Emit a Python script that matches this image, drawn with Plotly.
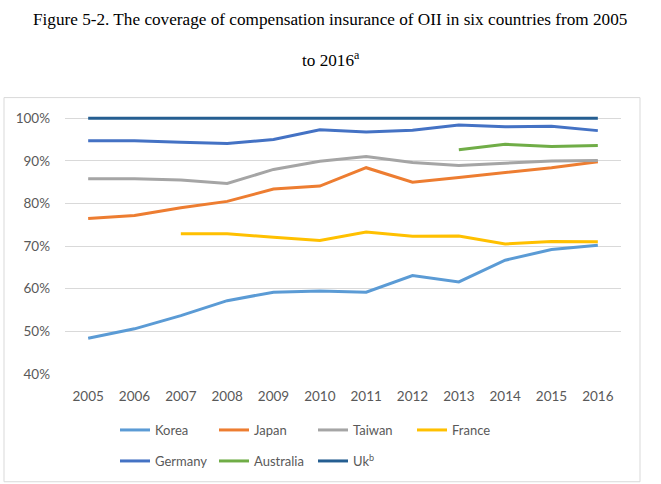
import plotly.graph_objects as go

years = [str(y) for y in range(2005, 2017)]
korea = [48.4, 50.6, 53.7, 57.2, 59.2, 59.5, 59.2, 63.1, 61.6, 66.7, 69.2, 70.2]
japan = [76.5, 77.2, 79.0, 80.5, 83.4, 84.1, 88.4, 85.0, 86.1, 87.3, 88.4, 89.8]
taiwan = [85.8, 85.8, 85.5, 84.7, 88.0, 89.9, 91.0, 89.6, 88.9, 89.5, 90.0, 90.1]
france = [None, None, 72.9, 72.9, 72.1, 71.3, 73.3, 72.3, 72.4, 70.5, 71.1, 71.0]
germany = [94.7, 94.7, 94.4, 94.1, 95.0, 97.3, 96.8, 97.2, 98.4, 98.0, 98.1, 97.1]
australia = [None] * 8 + [92.6, 93.9, 93.4, 93.6]
uk = [100.0] * 12

series = [
    ("Korea", korea, "#5B9BD5", "legend"),
    ("Japan", japan, "#ED7D31", "legend"),
    ("Taiwan", taiwan, "#A5A5A5", "legend"),
    ("France", france, "#FFC000", "legend"),
    ("Germany", germany, "#4472C4", "legend2"),
    ("Australia", australia, "#70AD47", "legend2"),
    ("Uk<sup>b</sup>", uk, "#255E91", "legend2"),
]

W, H = 661, 484
L, R = 65, 621
TOP, BOT = 114.4, 374.3

def px(p):
    return (p - L) / (R - L)

def py(p):
    return (BOT - p) / (BOT - TOP)

fig = go.Figure()
for name, vals, col, lg in series:
    fig.add_trace(go.Scatter(
        x=years, y=[v / 100 if v is not None else None for v in vals],
        name=name, mode="lines", line=dict(color=col, width=3),
        connectgaps=False, legend=lg,
    ))

font = "Lato, Open Sans, sans-serif"
legfont = dict(family=font, size=13, color="#595959")
legcommon = dict(
    orientation="h", xanchor="left", yanchor="top",
    xref="container", yref="container",
    entrywidth=54, entrywidthmode="pixels", font=legfont,
    itemwidth=30, traceorder="normal", bgcolor="rgba(0,0,0,0)",
)
fig.update_layout(
    width=W, height=H,
    margin=dict(l=L, r=W - R, t=TOP, b=H - BOT, autoexpand=False),
    paper_bgcolor="white", plot_bgcolor="white",
    showlegend=True,
    legend=dict(x=115 / W, y=1 - 415 / H, **legcommon),
    legend2=dict(x=115 / W, y=1 - 446 / H, **legcommon),
    xaxis=dict(
        type="category", range=[-0.5, 11.5], showgrid=False, zeroline=False,
        showline=False, ticks="", ticklabelstandoff=12, automargin=False,
        tickfont=dict(family=font, size=13.5, color="#595959"),
    ),
    yaxis=dict(
        range=[0.4, 1.01], tickvals=[0.4, 0.5, 0.6, 0.7, 0.8, 0.9, 1.0],
        tickformat=".0%", showgrid=True, gridcolor="#D9D9D9", gridwidth=1,
        zeroline=False, showline=False, ticks="", ticklabelstandoff=14, automargin=False,
        tickfont=dict(family=font, size=13.5, color="#595959"),
    ),
    shapes=[dict(
        type="rect", xref="paper", yref="paper",
        x0=px(4), x1=px(640), y0=py(482), y1=py(98),
        line=dict(color="#D9D9D9", width=1), fillcolor="rgba(0,0,0,0)", layer="below",
    )],
    annotations=[
        dict(text="Figure 5-2. The coverage of compensation insurance of OII in six countries from 2005",
             xref="paper", yref="paper", x=px(330), y=py(20), xanchor="center", yanchor="middle",
             showarrow=False, font=dict(family="Liberation Serif", size=17.2, color="black")),
        dict(text="to 2016<sup>a</sup>",
             xref="paper", yref="paper", x=px(331), y=py(59), xanchor="center", yanchor="middle",
             showarrow=False, font=dict(family="Liberation Serif", size=17.2, color="black")),
    ],
)

fig.write_html("out.html")
